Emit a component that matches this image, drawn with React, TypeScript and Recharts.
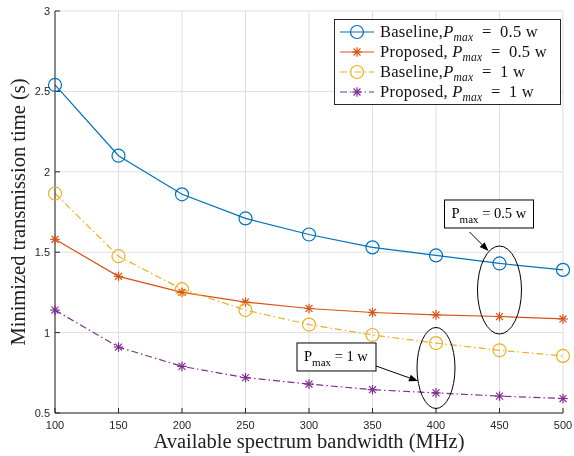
import React from 'react';
import { LineChart, Line, XAxis, YAxis, CartesianGrid, Legend, ReferenceDot, Label } from 'recharts';

const bandwidth = [100, 150, 200, 250, 300, 350, 400, 450, 500];
const baseline05 = [2.54, 2.1, 1.86, 1.71, 1.61, 1.53, 1.48, 1.43, 1.39];
const proposed05 = [1.58, 1.35, 1.25, 1.19, 1.15, 1.125, 1.11, 1.1, 1.085];
const baseline1 = [1.865, 1.475, 1.27, 1.14, 1.05, 0.985, 0.935, 0.89, 0.855];
const proposed1 = [1.14, 0.91, 0.79, 0.72, 0.68, 0.645, 0.625, 0.605, 0.59];

const xTicks = [100, 150, 200, 250, 300, 350, 400, 450, 500];
const yTicks = [0.5, 1, 1.5, 2, 2.5, 3];

const seriesNames = ['Baseline,', 'Proposed, ', 'Baseline,', 'Proposed, '];
const seriesPmax = ['0.5 w', '0.5 w', '1 w', '1 w'];
const seriesKeys = ['b05', 'p05', 'b1', 'p1'];
const seriesColors = ['#0072BD', '#D95319', '#EDB120', '#7E2F8E'];
const seriesMarkers = ['circle', 'star', 'circle', 'star'];
const seriesDash = [undefined, undefined, '7 3 1.5 3', '7 3 1.5 3'];

const annotations = [
  { x: 450, y: 1.265, label: '0.5 w', rx: 22, ry: 44, box: [-55, -90, 89, 28], arrow: [-30, -58, -11, -39] },
  { x: 400, y: 0.78, label: '1 w', rx: 19, ry: 40.5, box: [-139, -25, 79, 28], arrow: [-60, -2, -18, 13] },
];

const data = bandwidth.map((b, i) => ({
  bw: b,
  b05: baseline05[i],
  p05: proposed05[i],
  b1: baseline1[i],
  p1: proposed1[i],
}));

const AXIS = '#262626';
const SERIF = '"Liberation Serif", "Times New Roman", serif';
const SANS = '"Liberation Sans", Arial, sans-serif';

function Marker({ type, cx, cy, color }: any) {
  if (type === 'circle') {
    return <circle cx={cx} cy={cy} r={6.5} fill="none" stroke={color} strokeWidth={1.2} />;
  }
  const r = 4.8;
  const d = r * 0.72;
  return (
    <g stroke={color} strokeWidth={1.2}>
      <line x1={cx - r} y1={cy} x2={cx + r} y2={cy} />
      <line x1={cx} y1={cy - r} x2={cx} y2={cy + r} />
      <line x1={cx - d} y1={cy - d} x2={cx + d} y2={cy + d} />
      <line x1={cx - d} y1={cy + d} x2={cx + d} y2={cy - d} />
    </g>
  );
}

function makeDot(type: string, color: string) {
  return (props: any) => {
    const { cx, cy, index } = props;
    if (cx == null || cy == null) return <g key={`d${index}`} />;
    return (
      <g key={`d${index}`}>
        <Marker type={type} cx={cx} cy={cy} color={color} />
      </g>
    );
  };
}

function AnnotationShape(props: any) {
  const { cx, cy, ann } = props;
  if (cx == null || cy == null) return <g />;
  const [bx, by, bw, bh] = ann.box;
  const [ax1, ay1, ax2, ay2] = ann.arrow;
  const x1 = cx + ax1, y1 = cy + ay1, x2 = cx + ax2, y2 = cy + ay2;
  const ang = Math.atan2(y2 - y1, x2 - x1);
  const hl = 9, hw = 3.5;
  const bxp = x2 - hl * Math.cos(ang);
  const byp = y2 - hl * Math.sin(ang);
  const px = -Math.sin(ang) * hw, py = Math.cos(ang) * hw;
  return (
    <g>
      <ellipse cx={cx} cy={cy} rx={ann.rx} ry={ann.ry} fill="none" stroke="#000" strokeWidth={1} />
      <line x1={x1} y1={y1} x2={bxp} y2={byp} stroke="#000" strokeWidth={1} />
      <polygon points={`${x2},${y2} ${bxp + px},${byp + py} ${bxp - px},${byp - py}`} fill="#000" />
      <rect x={cx + bx} y={cy + by} width={bw} height={bh} fill="#fff" stroke="#000" strokeWidth={1} />
      <text x={cx + bx + 7} y={cy + by + 18} fontFamily={SERIF} fontSize={14.5} fill="#000">
        <tspan>P</tspan>
        <tspan dy={5} fontSize={11}>max</tspan>
        <tspan dy={-5}>{` = ${ann.label}`}</tspan>
      </text>
    </g>
  );
}

function LegendBox() {
  return (
    <div
      style={{
        border: '1px solid #262626',
        background: '#fff',
        padding: '2px 0 2px 0',
        fontFamily: SERIF,
        fontSize: 16.5,
        color: '#111',
        boxSizing: 'border-box',
        width: 227,
      }}
    >
      {seriesKeys.map((k, i) => (
        <div key={k} style={{ display: 'flex', alignItems: 'center', height: 20, whiteSpace: 'nowrap' }}>
          <svg width={45} height={20} style={{ flex: 'none' }}>
            <line x1={5} y1={10} x2={39} y2={10} stroke={seriesColors[i]} strokeWidth={1.2} strokeDasharray={seriesDash[i]} />
            <Marker type={seriesMarkers[i]} cx={22} cy={10} color={seriesColors[i]} />
          </svg>
          <span style={{ letterSpacing: 0.25 }}>
            {seriesNames[i]}
            <i>P</i>
            <i style={{ fontSize: 11.5, position: 'relative', top: 4 }}>max</i>
            {`\u2002=\u2002${seriesPmax[i]}`}
          </span>
        </div>
      ))}
    </div>
  );
}

export default function App() {
  return (
    <div style={{ position: 'fixed', left: 0, top: 0, width: 574, height: 456 }}>
      <LineChart width={574} height={456} data={data} margin={{ top: 11, right: 11, left: 0, bottom: 0 }}>
        <CartesianGrid stroke="#dfdfdf" strokeWidth={1} />
        <XAxis
          dataKey="bw"
          type="number"
          domain={[100, 500]}
          ticks={xTicks}
          height={43}
          tickSize={-5}
          tickMargin={13}
          stroke={AXIS}
          tick={{ fill: AXIS, fontFamily: SANS, fontSize: 11 }}
          interval={0}
        >
          <Label
            content={({ viewBox }: any) => (
              <text x={viewBox.x + viewBox.width / 2} y={viewBox.y + 35} textAnchor="middle" fontFamily={SERIF} fontSize={20.5} fill="#222">
                Available spectrum bandwidth (MHz)
              </text>
            )}
          />
        </XAxis>
        <XAxis xAxisId="top" orientation="top" dataKey="bw" type="number" domain={[100, 500]} ticks={xTicks} height={0} tickSize={-5} stroke={AXIS} tick={() => <g />} interval={0} />
        <YAxis
          type="number"
          domain={[0.5, 3]}
          ticks={yTicks}
          width={55}
          tickSize={-5}
          tickMargin={10}
          stroke={AXIS}
          tick={{ fill: AXIS, fontFamily: SANS, fontSize: 11 }}
          interval={0}
        >
          <Label
            content={({ viewBox }: any) => {
              const x = 25;
              const y = viewBox.y + viewBox.height / 2;
              return (
                <text x={x} y={y} transform={`rotate(-90 ${x} ${y})`} textAnchor="middle" fontFamily={SERIF} fontSize={20.5} fill="#222">
                  Minimized transmission time (s)
                </text>
              );
            }}
          />
        </YAxis>
        <YAxis yAxisId="right" orientation="right" type="number" domain={[0.5, 3]} ticks={yTicks} width={0} tickSize={-5} stroke={AXIS} tick={() => <g />} interval={0} />
        {seriesKeys.map((k, i) => (
          <Line
            key={k}
            dataKey={k}
            type="linear"
            stroke={seriesColors[i]}
            strokeWidth={1.2}
            strokeDasharray={seriesDash[i]}
            dot={makeDot(seriesMarkers[i], seriesColors[i])}
            activeDot={false}
            isAnimationActive={false}
          />
        ))}
        {annotations.map((a, i) => (
          <ReferenceDot key={`a${i}`} x={a.x} y={a.y} r={0} ifOverflow="visible" shape={(p: any) => <AnnotationShape {...p} ann={a} />} />
        ))}
        <Legend
          layout="horizontal"
          align="center"
          verticalAlign="middle"
          content={() => <LegendBox />}
          wrapperStyle={{ left: 334, top: 19, width: 227, height: 'auto' }}
        />
      </LineChart>
    </div>
  );
}
